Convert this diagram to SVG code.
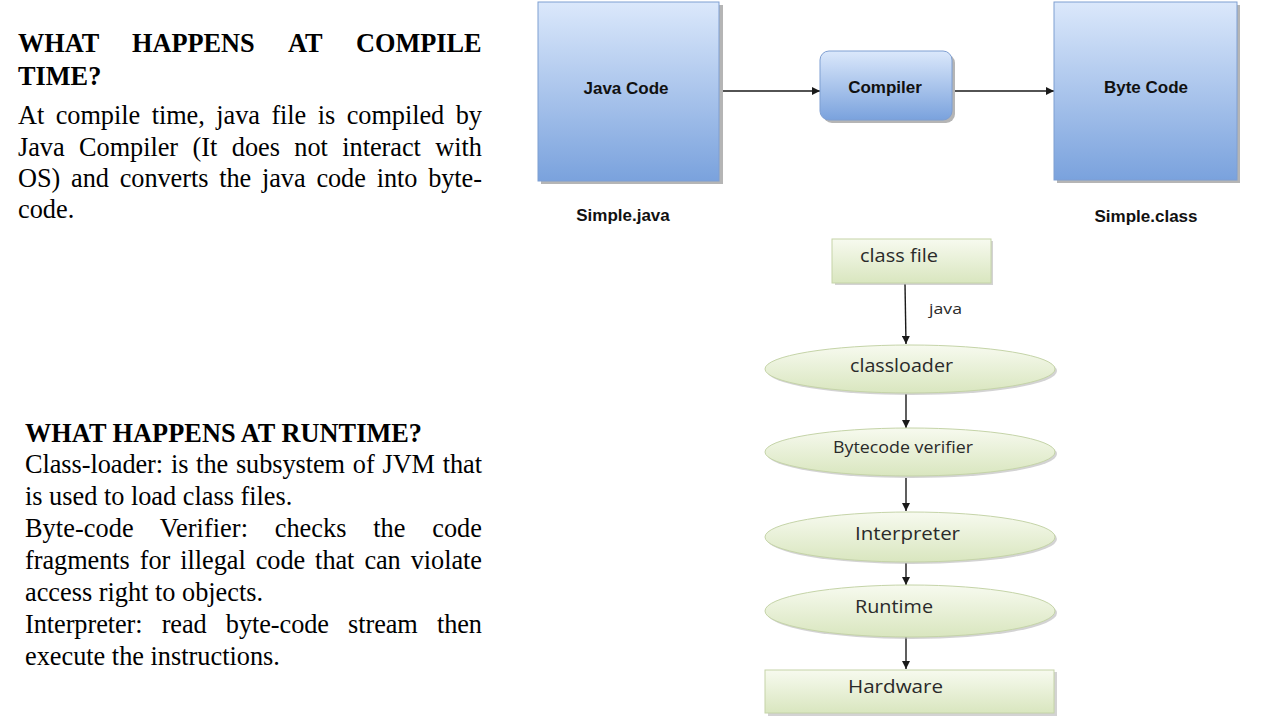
<svg xmlns="http://www.w3.org/2000/svg" width="1280" height="720" viewBox="0 0 1280 720">
<defs>
<linearGradient id="blue" x1="0" y1="0" x2="0" y2="1">
<stop offset="0" stop-color="#dbe8fb"/>
<stop offset="1" stop-color="#7aa2dd"/>
</linearGradient>
<linearGradient id="green" x1="0" y1="0" x2="0" y2="1">
<stop offset="0" stop-color="#f7faef"/>
<stop offset="1" stop-color="#d9e6bf"/>
</linearGradient>
<marker id="ah" viewBox="0 0 10 10" refX="10" refY="5" markerWidth="8" markerHeight="8" orient="auto" markerUnits="userSpaceOnUse">
<path d="M0,0 L10,5 L0,10 z" fill="#1a1a1a"/>
</marker>
<style>
.serif{font-family:"Liberation Serif","Times New Roman",serif;font-size:26.3px;fill:#000}
.b{font-weight:bold}
.lbl{font-family:"Liberation Sans",Arial,sans-serif;font-weight:bold;font-size:17px;fill:#111;text-anchor:middle}
.g{font-family:"Open Sans","DejaVu Sans",sans-serif;fill:#2a2a2a}
.bluebox{fill:url(#blue);stroke:#7f9fd2;stroke-width:1}
.shadow{fill:#b5b5b5}
.gbox{fill:url(#green);stroke:#c5d4a8;stroke-width:1}
.conn{stroke:#1a1a1a;stroke-width:1.4;fill:none;marker-end:url(#ah)}
</style>
</defs>
<rect width="1280" height="720" fill="#fff"/>

<g id="compile-text">
<text class="serif b" y="52"><tspan x="18">WHAT</tspan><tspan x="132">HAPPENS</tspan><tspan x="288">AT</tspan><tspan x="356">COMPILE</tspan></text>
<text class="serif b" x="18" y="85">TIME?</text>
<text class="serif" x="18" y="124" textLength="464" lengthAdjust="spacing" word-spacing="5">At compile time, java file is compiled by</text>
<text class="serif" x="18" y="156" textLength="464" lengthAdjust="spacing" word-spacing="8">Java Compiler (It does not interact with</text>
<text class="serif" x="18" y="187" textLength="464" lengthAdjust="spacing" word-spacing="4.3">OS) and converts the java code into byte-</text>
<text class="serif" x="18" y="218">code.</text>
</g>

<g id="runtime-text">
<text class="serif b" x="25" y="442" textLength="397" lengthAdjust="spacing">WHAT HAPPENS AT RUNTIME?</text>
<text class="serif" x="25" y="473" textLength="457" lengthAdjust="spacing" word-spacing="1.3">Class-loader: is the subsystem of JVM that</text>
<text class="serif" x="25" y="505">is used to load class files.</text>
<text class="serif" x="25" y="537" textLength="457" lengthAdjust="spacing" word-spacing="20">Byte-code Verifier: checks the code</text>
<text class="serif" x="25" y="569" textLength="457" lengthAdjust="spacing" word-spacing="3.5">fragments for illegal code that can violate</text>
<text class="serif" x="25" y="601">access right to objects.</text>
<text class="serif" x="25" y="633" textLength="457" lengthAdjust="spacing" word-spacing="12.6">Interpreter: read byte-code stream then</text>
<text class="serif" x="25" y="665">execute the instructions.</text>
</g>

<g id="connectors">
<line class="conn" x1="719" y1="91" x2="820" y2="91"/>
<line class="conn" x1="952" y1="91" x2="1054" y2="91"/>
<line class="conn" x1="905" y1="284" x2="906" y2="344"/>
<line class="conn" x1="906" y1="394" x2="906" y2="428"/>
<line class="conn" x1="906" y1="478" x2="906" y2="511"/>
<line class="conn" x1="906" y1="563" x2="906" y2="585"/>
<line class="conn" x1="906" y1="637" x2="906" y2="669"/>
<text class="g" x="929" y="314" font-size="14" textLength="33" lengthAdjust="spacingAndGlyphs">java</text>
</g>

<g id="java-code">
<rect class="shadow" x="541" y="5" width="182" height="179"/>
<rect class="bluebox" x="538" y="2" width="181" height="179"/>
<text class="lbl" x="626" y="94">Java Code</text>
<text class="lbl" x="623" y="221">Simple.java</text>
</g>

<g id="compiler">
<rect class="shadow" x="823" y="54" width="132" height="69" rx="9"/>
<rect class="bluebox" x="820" y="51" width="132" height="69" rx="9"/>
<text class="lbl" x="885" y="93">Compiler</text>
</g>

<g id="byte-code">
<rect class="shadow" x="1057" y="5" width="183" height="178"/>
<rect class="bluebox" x="1054" y="2" width="183" height="178"/>
<text class="lbl" x="1146" y="93">Byte Code</text>
<text class="lbl" x="1146" y="222">Simple.class</text>
</g>

<g id="class-file">
<rect class="shadow" x="835" y="241" width="158" height="44" opacity="0.6"/>
<rect class="gbox" x="832" y="239" width="159" height="44"/>
<text class="g" x="860" y="262" font-size="18" textLength="78" lengthAdjust="spacingAndGlyphs">class file</text>
</g>

<g id="classloader">
<ellipse class="shadow" cx="912" cy="371" rx="145" ry="24" opacity="0.6"/>
<ellipse class="gbox" cx="910" cy="369" rx="145" ry="24"/>
<text class="g" x="850" y="372" font-size="19" textLength="103" lengthAdjust="spacingAndGlyphs">classloader</text>
</g>

<g id="bytecode-verifier">
<ellipse class="shadow" cx="912" cy="454" rx="145" ry="24" opacity="0.6"/>
<ellipse class="gbox" cx="910" cy="452" rx="145" ry="24"/>
<text class="g" x="833" y="453" font-size="15.5" textLength="140" lengthAdjust="spacingAndGlyphs">Bytecode verifier</text>
</g>

<g id="interpreter">
<ellipse class="shadow" cx="912" cy="539" rx="145" ry="25" opacity="0.6"/>
<ellipse class="gbox" cx="910" cy="537" rx="145" ry="25"/>
<text class="g" x="855" y="540" font-size="19" textLength="105" lengthAdjust="spacingAndGlyphs">Interpreter</text>
</g>

<g id="runtime">
<ellipse class="shadow" cx="912" cy="613" rx="145" ry="26" opacity="0.6"/>
<ellipse class="gbox" cx="910" cy="611" rx="145" ry="26"/>
<text class="g" x="855" y="613" font-size="19" textLength="78" lengthAdjust="spacingAndGlyphs">Runtime</text>
</g>

<g id="hardware">
<rect class="shadow" x="768" y="672" width="289" height="44" opacity="0.6"/>
<rect class="gbox" x="765" y="670" width="289" height="43"/>
<text class="g" x="848" y="693" font-size="19" textLength="95" lengthAdjust="spacingAndGlyphs">Hardware</text>
</g>
</svg>
